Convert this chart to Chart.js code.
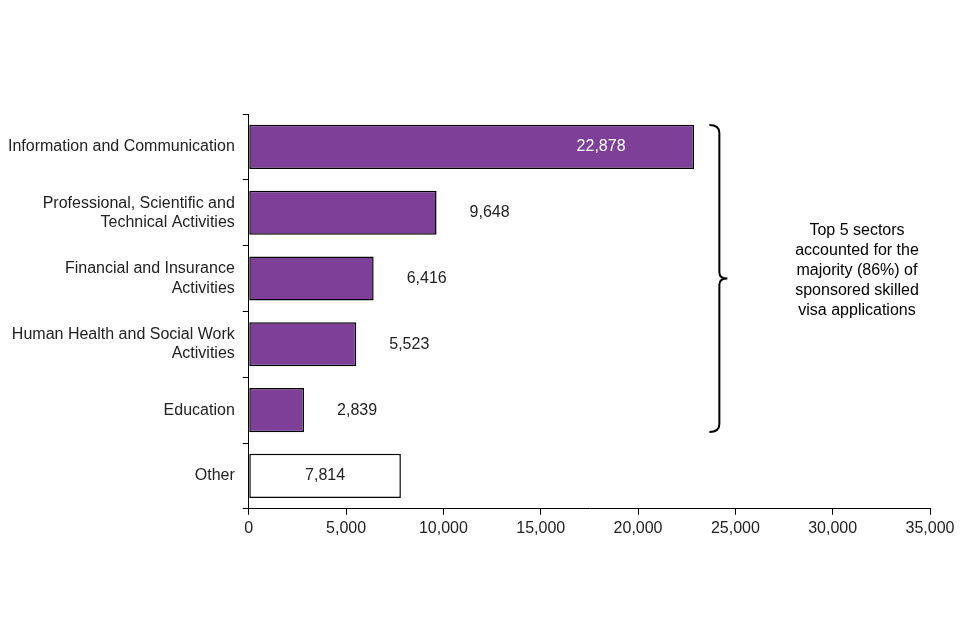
<!DOCTYPE html>
<html>
<head>
<meta charset="utf-8">
<script src="https://cdn.jsdelivr.net/npm/chart.js@4/dist/chart.umd.min.js"></script>
<style>
  html, body { margin: 0; padding: 0; background: #fff; }
  #wrap { width: 960px; height: 640px; }
</style>
</head>
<body>
<div id="wrap"><canvas id="sectorChart" width="960" height="640"></canvas></div>
<script>
// data
const sectors = [
  ['Information and Communication'],
  ['Professional, Scientific and', 'Technical Activities'],
  ['Financial and Insurance', 'Activities'],
  ['Human Health and Social Work', 'Activities'],
  ['Education'],
  ['Other']
];
const applications = [22878, 9648, 6416, 5523, 2839, 7814];
const barColours = ['#7d3f98', '#7d3f98', '#7d3f98', '#7d3f98', '#7d3f98', '#ffffff'];
const noteLines = ['Top 5 sectors', 'accounted for the', 'majority (86%) of', 'sponsored skilled', 'visa applications'];

const FONT = '"Liberation Sans", Arial, sans-serif';

// value labels next to / inside the bars
const valueLabels = {
  id: 'valueLabels',
  afterDatasetsDraw(chart) {
    const ctx = chart.ctx;
    const meta = chart.getDatasetMeta(0);
    ctx.save();
    ctx.font = '16px ' + FONT;
    ctx.textBaseline = 'middle';
    meta.data.forEach((bar, i) => {
      const txt = applications[i].toLocaleString('en-GB');
      if (i === 0) {
        ctx.fillStyle = '#fff';
        ctx.textAlign = 'center';
        ctx.fillText(txt, bar.x - 93, bar.y);
      } else if (i === applications.length - 1) {
        ctx.fillStyle = '#222';
        ctx.textAlign = 'center';
        ctx.fillText(txt, (bar.base + bar.x) / 2, bar.y);
      } else {
        ctx.fillStyle = '#222';
        ctx.textAlign = 'left';
        ctx.fillText(txt, bar.x + 33, bar.y);
      }
    });
    ctx.restore();
  }
};

// curly bracket and note on the right
const bracketNote = {
  id: 'bracketNote',
  afterDraw(chart) {
    const ctx = chart.ctx;
    const meta = chart.getDatasetMeta(0);
    const top = meta.data[0].y - 22;
    const bottom = meta.data[4].y + 22;
    const mid = (top + bottom) / 2;
    const x = chart.scales.x.getPixelForValue(25000) - 16;
    ctx.save();
    ctx.strokeStyle = '#000';
    ctx.lineWidth = 2;
    ctx.beginPath();
    ctx.moveTo(x - 10, top);
    ctx.quadraticCurveTo(x, top, x, top + 8);
    ctx.lineTo(x, mid - 6);
    ctx.quadraticCurveTo(x, mid, x + 8, mid);
    ctx.quadraticCurveTo(x, mid, x, mid + 6);
    ctx.lineTo(x, bottom - 8);
    ctx.quadraticCurveTo(x, bottom, x - 10, bottom);
    ctx.stroke();
    ctx.font = '16px ' + FONT;
    ctx.fillStyle = '#000';
    ctx.textAlign = 'center';
    ctx.textBaseline = 'middle';
    noteLines.forEach((line, i) => {
      ctx.fillText(line, 857, mid - 2 * 20 + i * 20 - 8);
    });
    ctx.restore();
  }
};

new Chart(document.getElementById('sectorChart').getContext('2d'), {
  type: 'bar',
  data: {
    labels: sectors,
    datasets: [{
      data: applications,
      backgroundColor: barColours,
      borderColor: '#000',
      borderWidth: 1.5,
      borderSkipped: false,
      categoryPercentage: 1,
      barPercentage: 0.67
    }]
  },
  options: {
    indexAxis: 'y',
    responsive: false,
    animation: false,
    layout: { padding: { top: 114, right: 30, bottom: 98, left: 0 } },
    plugins: { legend: { display: false }, tooltip: { enabled: false } },
    scales: {
      x: {
        min: 0, max: 35000,
        ticks: {
          stepSize: 5000,
          color: '#222',
          font: { family: FONT, size: 16 },
          maxRotation: 0,
          padding: 4,
          callback: v => v.toLocaleString('en-GB')
        },
        grid: { drawOnChartArea: false, tickLength: 6, color: '#000' },
        border: { color: '#000', width: 1 }
      },
      y: {
        offset: true,
        ticks: { color: '#222', font: { family: FONT, size: 16 }, padding: 8 },
        grid: { offset: true, drawOnChartArea: false, tickLength: 6, color: '#000' },
        border: { color: '#000', width: 1 }
      }
    }
  },
  plugins: [valueLabels, bracketNote]
});
</script>
</body>
</html>
